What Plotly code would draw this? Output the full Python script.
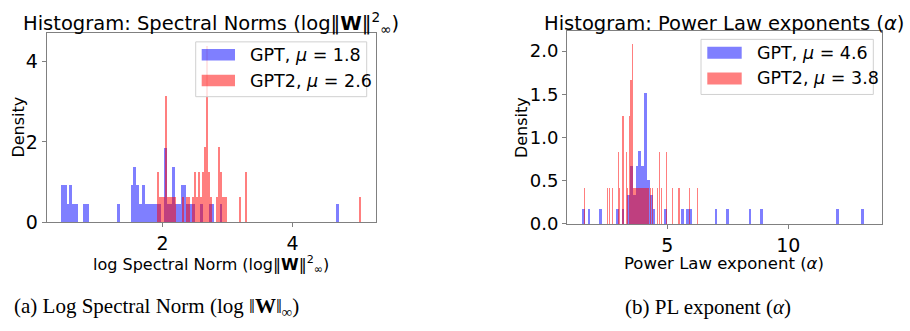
import plotly.graph_objects as go

W, H = 910, 331

# ---------------- data (histograms with 100 equal bins; only non-empty bins listed) ----------------
# Left panel: log spectral norm
gpt_sn_range = [0.437, 4.714]
gpt_sn_bins = [0, 1, 2, 3, 4, 5, 8, 9, 20, 25, 26, 27, 28, 29, 30, 31, 32, 33, 34, 35,
               37, 38, 39, 40, 41, 42, 43, 44, 45, 46, 47, 50, 53, 54, 57, 99]
gpt_sn_counts = [2, 2, 1, 2, 1, 1, 1, 1, 1, 2, 3, 2, 1, 2, 1, 1, 1, 1, 1, 1,
                 4, 1, 1, 3, 1, 1, 2, 2, 1, 1, 1, 1, 1, 1, 1, 1]

gpt2_sn_range = [1.914, 5.052]
gpt2_sn_bins = [0, 1, 2, 3, 4, 5, 6, 7, 8, 12, 14, 15, 17, 18, 19, 20, 21, 22, 23, 24,
                25, 26, 29, 30, 31, 32, 33, 40, 43, 99]
gpt2_sn_counts = [2, 1, 1, 1, 5, 1, 1, 1, 1, 1, 1, 1, 1, 2, 1, 2, 1, 2, 3, 7,
                  2, 1, 1, 3, 2, 1, 1, 1, 2, 1]

# Right panel: power-law exponent alpha
gpt_pl_range = [1.475, 13.14]
gpt_pl_bins = [0, 2, 6, 12, 14, 16, 17, 18, 19, 20, 21, 22, 23, 24, 25, 29, 35, 37, 38,
               47, 51, 59, 63, 90, 99]
gpt_pl_counts = [1, 1, 1, 1, 1, 2, 4, 2, 4, 5, 4, 9, 3, 2, 1, 1, 1, 1, 1,
                 1, 1, 1, 1, 1, 1]

gpt2_pl_range = [1.545, 6.26]
gpt2_pl_bins = [0, 20, 22, 25, 30, 31, 34, 37, 38, 40, 41, 42, 43, 44, 45, 46, 47, 48,
                49, 50, 51, 52, 53, 54, 55, 56, 58, 60, 64, 66, 68, 72, 77, 83, 92, 99]
gpt2_pl_counts = [1, 1, 1, 1, 2, 1, 3, 2, 1, 3, 4, 5, 1, 1, 1, 1, 1, 1,
                  1, 1, 1, 1, 1, 1, 1, 1, 1, 1, 1, 2, 1, 2, 1, 1, 1, 1]

N_BINS = 100
legend_left = ["GPT, <i>μ</i> = 1.8", "GPT2, <i>μ</i> = 2.6"]
legend_right = ["GPT, <i>μ</i> = 4.6", "GPT2, <i>μ</i> = 3.8"]

FONT = "DejaVu Sans"
BLUE = "rgba(0,0,255,0.5)"
RED = "rgba(255,0,0,0.5)"


def density_bars(rng, bins, counts):
    w = (rng[1] - rng[0]) / N_BINS
    n = sum(counts)
    xs = [rng[0] + (b + 0.5) * w for b in bins]
    ys = [c / (n * w) for c in counts]
    return xs, ys, w


def px(x):
    return x / W


def py(y):
    return 1 - y / H


fig = go.Figure()

for rng, bins, counts, col, xa, ya, name in [
    (gpt_sn_range, gpt_sn_bins, gpt_sn_counts, BLUE, "x", "y", "GPT"),
    (gpt2_sn_range, gpt2_sn_bins, gpt2_sn_counts, RED, "x", "y", "GPT2"),
    (gpt_pl_range, gpt_pl_bins, gpt_pl_counts, BLUE, "x2", "y2", "GPT"),
    (gpt2_pl_range, gpt2_pl_bins, gpt2_pl_counts, RED, "x2", "y2", "GPT2"),
]:
    xs, ys, w = density_bars(rng, bins, counts)
    fig.add_trace(go.Bar(x=xs, y=ys, width=w, marker=dict(color=col, line=dict(width=0)),
                         xaxis=xa, yaxis=ya, name=name, showlegend=False))

axis_common = dict(showline=True, mirror=True, linecolor="#808080", linewidth=1,
                   ticks="outside", ticklen=4, tickcolor="#808080", showgrid=False,
                   zeroline=False, tickfont=dict(family=FONT, size=19, color="black"))

fig.update_layout(
    width=W, height=H, margin=dict(l=0, r=0, t=0, b=0),
    paper_bgcolor="white", plot_bgcolor="white", barmode="overlay", bargap=0,
    xaxis=dict(domain=[px(46.7), px(375.7)], range=[0.22, 5.28], tickvals=[2, 4],
               anchor="y", **axis_common),
    yaxis=dict(domain=[py(230), py(34.3)], range=[0, 4.70], tickvals=[0, 2, 4],
               anchor="x", **axis_common),
    xaxis2=dict(domain=[px(567), px(881.7)], range=[0.855, 13.86], tickvals=[5, 10],
                anchor="y2", **axis_common),
    yaxis2=dict(domain=[py(231.7), py(32.3)], range=[0, 2.23],
                tickvals=[0, 0.5, 1.0, 1.5, 2.0], tickformat=".1f", anchor="x2",
                **{**axis_common, "tickfont": dict(family=FONT, size=18, color="black")}),
)

ann = []
def text(x, y, s, size, xanchor="center", yanchor="middle", angle=0, family=FONT):
    ann.append(dict(x=px(x), y=py(y), xref="paper", yref="paper", text=s, showarrow=False,
                    xanchor=xanchor, yanchor=yanchor, textangle=angle,
                    font=dict(family=family, size=size, color="black")))

# titles
text(211, 24, "Histogram: Spectral Norms (log‖<b>W</b>‖<sup>2</sup><sub>∞</sub>)", 19.5)
text(724, 24, "Histogram: Power Law exponents (<i>α</i>)", 19.5)
# axis labels
text(211, 274, "log Spectral Norm (log‖<b>W</b>‖<sup>2</sup><sub>∞</sub>)", 16)
text(724, 273, "Power Law exponent (<i>α</i>)", 16.5)
text(19, 132, "Density", 16, angle=-90)
text(521.5, 132, "Density", 16, angle=-90)
# sub-captions
text(156, 318, "(a) Log Spectral Norm (log ‖<b>W</b>‖<sub>∞</sub>)", 21, family="Liberation Serif")
text(708, 318, "(b) PL exponent (<i>α</i>)", 21, family="Liberation Serif")

shapes = []
def legend(box, sw_x, rows, labels):
    x0, x1, y0, y1 = box
    shapes.append(dict(type="rect", xref="paper", yref="paper", x0=px(x0), x1=px(x1),
                       y0=py(y1), y1=py(y0), line=dict(color="#d0d0d0", width=1),
                       fillcolor="rgba(255,255,255,0.8)", layer="above"))
    for (ya, yb), col, lab in zip(rows, [BLUE, RED], labels):
        shapes.append(dict(type="rect", xref="paper", yref="paper", x0=px(sw_x[0]),
                           x1=px(sw_x[1]), y0=py(yb), y1=py(ya), line=dict(width=0),
                           fillcolor=col, layer="above"))
        text(sw_x[1] + 13, (ya + yb) / 2, lab, 17.5, xanchor="left")

legend((195.7, 366.7, 43.3, 100), (201.7, 235), [(50.7, 62.7), (77.3, 89.3)], legend_left)
legend((701, 873.3, 40.7, 97.7), (707.3, 741.7), [(48.3, 60.7), (75, 87.3)], legend_right)

fig.update_layout(annotations=ann, shapes=shapes)
fig.write_html("out.html")
